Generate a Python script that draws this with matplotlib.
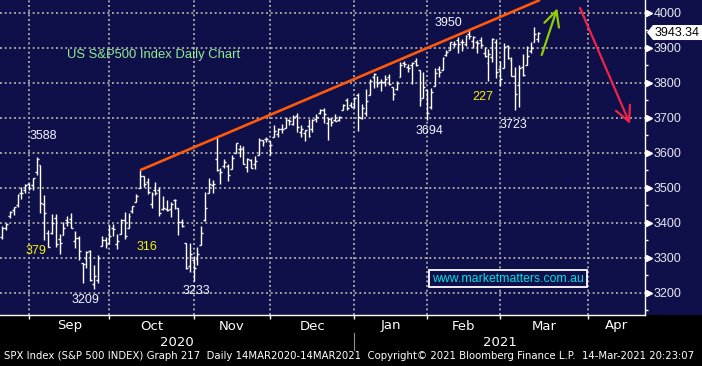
import matplotlib
matplotlib.use("Agg")
import matplotlib.pyplot as plt
from matplotlib.collections import LineCollection
from matplotlib.patches import Polygon, Rectangle
from matplotlib import font_manager
import matplotlib.transforms as mtransforms
import numpy as np
import pandas as pd

# ---------------- data (S&P 500 daily OHLC) ----------------
dates = [
 "2020-08-20","2020-08-21","2020-08-24","2020-08-25","2020-08-26","2020-08-27","2020-08-28","2020-08-31",
 "2020-09-01","2020-09-02","2020-09-03","2020-09-04","2020-09-08","2020-09-09","2020-09-10","2020-09-11",
 "2020-09-14","2020-09-15","2020-09-16","2020-09-17","2020-09-18","2020-09-21","2020-09-22","2020-09-23",
 "2020-09-24","2020-09-25","2020-09-28","2020-09-29","2020-09-30",
 "2020-10-01","2020-10-02","2020-10-05","2020-10-06","2020-10-07","2020-10-08","2020-10-09","2020-10-12",
 "2020-10-13","2020-10-14","2020-10-15","2020-10-16","2020-10-19","2020-10-20","2020-10-21","2020-10-22",
 "2020-10-23","2020-10-26","2020-10-27","2020-10-28","2020-10-29","2020-10-30",
 "2020-11-02","2020-11-03","2020-11-04","2020-11-05","2020-11-06","2020-11-09","2020-11-10","2020-11-11",
 "2020-11-12","2020-11-13","2020-11-16","2020-11-17","2020-11-18","2020-11-19","2020-11-20","2020-11-23",
 "2020-11-24","2020-11-25","2020-11-27","2020-11-30",
 "2020-12-01","2020-12-02","2020-12-03","2020-12-04","2020-12-07","2020-12-08","2020-12-09","2020-12-10",
 "2020-12-11","2020-12-14","2020-12-15","2020-12-16","2020-12-17","2020-12-18","2020-12-21","2020-12-22",
 "2020-12-23","2020-12-24","2020-12-28","2020-12-29","2020-12-30","2020-12-31",
 "2021-01-04","2021-01-05","2021-01-06","2021-01-07","2021-01-08","2021-01-11","2021-01-12","2021-01-13",
 "2021-01-14","2021-01-15","2021-01-19","2021-01-20","2021-01-21","2021-01-22","2021-01-25","2021-01-26",
 "2021-01-27","2021-01-28","2021-01-29",
 "2021-02-01","2021-02-02","2021-02-03","2021-02-04","2021-02-05","2021-02-08","2021-02-09","2021-02-10",
 "2021-02-11","2021-02-12","2021-02-16","2021-02-17","2021-02-18","2021-02-19","2021-02-22","2021-02-23",
 "2021-02-24","2021-02-25","2021-02-26",
 "2021-03-01","2021-03-02","2021-03-03","2021-03-04","2021-03-05","2021-03-08","2021-03-09","2021-03-10",
 "2021-03-11","2021-03-12",
]
opens = [
 3360.5,3386.0,3418.1,3435.9,3450.0,3485.1,3494.7,3509.7,
 3507.4,3543.8,3564.7,3453.6,3371.9,3369.8,3412.6,3352.7,
 3363.6,3407.7,3411.2,3346.9,3357.4,3285.6,3295.8,3320.1,
 3226.1,3236.7,3333.9,3350.9,3341.2,
 3385.9,3338.9,3367.3,3408.7,3384.6,3434.3,3459.7,3500.0,
 3534.0,3515.5,3453.7,3493.5,3493.7,3439.4,3439.9,3438.5,
 3464.9,3441.4,3403.2,3342.5,3277.2,3293.6,
 3296.2,3336.3,3406.5,3485.7,3508.3,3583.0,3543.3,3563.2,
 3562.7,3552.6,3600.2,3610.3,3612.1,3559.4,3579.3,3566.8,
 3594.5,3635.5,3638.6,3634.2,
 3645.9,3653.8,3668.3,3670.9,3694.7,3683.1,3706.0,3659.1,
 3656.1,3675.3,3666.4,3696.3,3713.7,3722.4,3684.3,3698.1,
 3693.4,3694.0,3723.0,3750.0,3736.2,3733.3,
 3764.6,3698.0,3712.2,3764.7,3815.1,3803.1,3801.6,3802.2,
 3815.0,3788.7,3781.9,3816.2,3857.5,3844.2,3851.7,3863.0,
 3836.8,3755.8,3778.1,
 3731.2,3791.8,3840.3,3836.7,3878.3,3892.6,3910.5,3920.8,
 3916.4,3911.7,3939.6,3918.5,3915.9,3921.2,3885.6,3857.1,
 3873.7,3915.8,3839.7,
 3842.5,3903.6,3864.0,3818.5,3793.6,3844.4,3851.9,3892.0,
 3915.5,3924.5,
]
highs = [
 3390.8,3400.0,3432.1,3444.2,3481.1,3501.4,3509.2,3514.8,
 3528.0,3588.1,3564.9,3479.2,3380.0,3424.8,3425.6,3369.0,
 3402.9,3419.5,3428.9,3375.2,3362.3,3285.6,3320.3,3323.4,
 3278.7,3306.9,3360.7,3357.9,3393.6,
 3397.2,3369.1,3409.6,3431.6,3426.3,3447.3,3482.3,3549.9,
 3534.0,3527.9,3489.1,3515.8,3502.4,3476.9,3464.9,3460.5,
 3466.5,3441.4,3409.5,3342.5,3341.1,3304.9,
 3330.1,3389.5,3486.3,3529.0,3521.6,3646.0,3557.2,3581.2,
 3569.0,3593.7,3628.5,3623.1,3619.1,3585.2,3581.2,3589.8,
 3642.3,3635.5,3644.3,3634.2,
 3678.5,3671.0,3682.7,3699.2,3697.4,3708.5,3712.4,3678.5,
 3665.9,3697.6,3695.3,3711.3,3725.1,3726.7,3702.9,3698.3,
 3711.2,3703.8,3740.5,3756.1,3744.6,3760.2,
 3770.0,3737.8,3783.0,3811.6,3826.7,3817.9,3810.8,3821.0,
 3823.6,3788.7,3804.5,3859.8,3861.5,3852.3,3859.2,3870.9,
 3836.8,3830.5,3778.1,
 3784.3,3843.1,3847.5,3872.4,3894.6,3915.8,3918.4,3931.5,
 3926.0,3937.2,3950.4,3933.6,3922.0,3930.4,3902.9,3896.0,
 3928.7,3925.0,3861.1,
 3914.5,3906.4,3874.5,3843.7,3851.7,3881.1,3903.8,3917.4,
 3960.3,3945.0,
]
lows = [
 3354.7,3379.3,3413.1,3421.7,3444.2,3468.4,3484.3,3493.2,
 3494.6,3535.2,3427.4,3349.6,3329.3,3366.8,3329.3,3310.5,
 3363.6,3389.2,3384.4,3328.8,3292.4,3229.1,3271.0,3232.6,
 3209.5,3228.4,3332.9,3327.5,3340.5,
 3361.4,3323.7,3367.3,3354.5,3384.6,3428.2,3458.1,3499.6,
 3500.9,3480.6,3440.9,3480.4,3419.9,3435.7,3433.1,3415.3,
 3440.5,3364.9,3388.7,3268.9,3259.8,3233.9,
 3279.7,3336.3,3405.2,3485.7,3484.3,3547.5,3511.9,3557.0,
 3518.6,3552.6,3600.2,3588.7,3567.3,3543.8,3556.9,3552.8,
 3594.5,3617.8,3629.3,3594.4,
 3645.9,3644.8,3657.2,3670.9,3678.9,3678.8,3660.5,3645.2,
 3633.4,3645.8,3659.6,3688.6,3710.9,3685.8,3636.5,3676.2,
 3689.3,3689.3,3723.0,3723.3,3730.2,3726.9,
 3662.7,3695.1,3705.3,3764.7,3783.6,3789.0,3776.5,3791.5,
 3792.9,3749.6,3780.4,3816.2,3845.1,3830.4,3797.2,3847.8,
 3732.5,3755.8,3694.1,
 3725.6,3791.8,3816.7,3836.7,3874.9,3892.6,3902.6,3884.9,
 3890.4,3905.8,3923.9,3900.4,3885.0,3903.1,3874.7,3805.6,
 3859.6,3814.0,3789.5,
 3842.5,3868.6,3818.9,3723.3,3730.2,3819.3,3851.9,3885.7,
 3915.5,3915.2,
]
closes = [
 3385.5,3397.2,3431.3,3443.6,3478.7,3484.6,3508.0,3500.3,
 3526.7,3580.8,3455.1,3427.0,3331.8,3399.0,3339.2,3341.0,
 3383.5,3401.2,3385.5,3357.0,3319.5,3281.1,3315.6,3236.9,
 3246.6,3298.5,3351.6,3335.5,3363.0,
 3380.8,3348.4,3408.6,3361.0,3419.4,3446.8,3477.1,3534.2,
 3511.9,3488.7,3483.3,3483.8,3426.9,3443.1,3435.6,3453.5,
 3465.4,3401.0,3390.7,3271.0,3310.1,3270.0,
 3310.2,3369.2,3443.4,3510.5,3509.4,3550.5,3545.5,3572.7,
 3537.0,3585.2,3626.9,3609.5,3567.8,3581.9,3557.5,3577.6,
 3635.4,3629.6,3638.4,3621.6,
 3662.5,3669.0,3666.7,3699.1,3692.0,3702.3,3672.8,3668.1,
 3663.5,3647.5,3694.6,3701.2,3722.5,3709.4,3694.9,3687.3,
 3690.0,3703.1,3735.4,3727.0,3732.0,3756.1,
 3700.7,3726.9,3748.1,3803.8,3824.7,3799.6,3801.2,3809.8,
 3795.5,3768.3,3798.9,3851.9,3853.1,3841.5,3855.4,3849.6,
 3750.8,3787.4,3714.2,
 3773.9,3826.3,3830.2,3871.7,3886.8,3915.6,3911.2,3909.9,
 3916.4,3934.8,3932.6,3931.3,3914.0,3906.7,3876.5,3881.4,
 3925.4,3829.3,3811.2,
 3901.8,3870.3,3819.7,3768.5,3841.9,3821.4,3875.4,3898.8,
 3939.3,3943.3,
]
last_price = 3943.34
holidays = ["2020-09-07","2020-11-26","2020-12-25","2021-01-01","2021-01-18","2021-02-15","2021-04-02"]
month_labels = ["Sep","Oct","Nov","Dec","Jan","Feb","Mar","Apr"]
year_labels = ["2020","2021"]
y_ticks = [3200,3300,3400,3500,3600,3700,3800,3900,4000]
trend_dates = ["2020-10-12","2021-02-16"]
trend_vals = [3549.85,3950.4]
annotations = [  # text, colour, (pixel x, pixel y)
 ("3588","w",(43,136)),("379","y",(35.7,250.7)),("3209","w",(85.3,300)),
 ("316","y",(146.7,247.3)),("3233","w",(196.3,291)),("3694","w",(429.7,130.7)),
 ("3950","w",(448.8,23.3)),("227","y",(483.3,97.3)),("3723","w",(513.5,125)),
]
footer = ("SPX Index (S&P 500 INDEX) Graph 217  Daily 14MAR2020-14MAR2021  "
          "Copyright\u00a9 2021 Bloomberg Finance L.P.  14-Mar-2021 20:23:07")

# ---------------- trading-day axis ----------------
all_days = pd.bdate_range("2020-08-20", "2021-04-30")
all_days = all_days[~all_days.isin(pd.to_datetime(holidays))]
pos = {d: i for i, d in enumerate(all_days)}
x = np.array([pos[pd.Timestamp(d)] for d in dates], dtype=float)
O, H, L, C = map(np.array, (opens, highs, lows, closes))

W, Hh = 702, 366
PX = 3.829; X0 = 2.2          # pixel per trading day, pixel of index 0
Y4000 = 12.7; PY = 0.35       # pixel of 4000, pixel per point
AX_R, AX_B = 645, 315

def px2data(px, py):
    return (px - X0) / PX, 4000 - (py - Y4000) / PY

NAVY = "#0f0f4a"
fig = plt.figure(figsize=(W/100, Hh/100), dpi=100, facecolor="black")
bg = Rectangle((AX_R/W, 1-AX_B/Hh), 1-AX_R/W, AX_B/Hh,
               transform=fig.transFigure, facecolor=NAVY, edgecolor="none", zorder=-5)
fig.patches.append(bg)
ax = fig.add_axes([0, 1-AX_B/Hh, AX_R/W, AX_B/Hh])
ax.set_zorder(1)
ax.set_facecolor(NAVY)
xl = px2data(0, 0)[0], px2data(AX_R, 0)[0]
ax.set_xlim(*xl)
ax.set_ylim(px2data(0, AX_B)[1], px2data(0, 0)[1])

# month boundaries (gridline at last trading day of previous month)
months = pd.period_range("2020-09", "2021-04", freq="M")
bounds = []
for m in months:
    first = [i for i, d in enumerate(all_days) if d.to_period("M") == m][0]
    bounds.append(first - 1)
bounds_ext = bounds + [xl[1]]

# grid
for b in bounds:
    ax.axvline(b, color="#a0a0a0", lw=1.4, ls=(0, (1, 1.4)), zorder=1)
for v in y_ticks:
    ax.axhline(v, color="#a0a0a0", lw=1.4, ls=(0, (1, 1.4)), zorder=1)

# OHLC bars
hl = 0.5
segs = [((xi, l), (xi, h)) for xi, l, h in zip(x, L, H)]
segs += [((xi - hl, o), (xi, o)) for xi, o in zip(x, O)]
segs += [((xi, c), (xi + hl, c)) for xi, c in zip(x, C)]
ax.add_collection(LineCollection(segs, colors="white", linewidths=1.0, zorder=3))

# trendline
tx = [pos[pd.Timestamp(d)] for d in trend_dates]
slope = (trend_vals[1] - trend_vals[0]) / (tx[1] - tx[0])
tx_end = px2data(540, 0)[0]
ax.plot([tx[0], tx_end], [trend_vals[0], trend_vals[0] + slope*(tx_end - tx[0])],
        color="#ff5a0a", lw=1.9, solid_capstyle="butt", zorder=4, clip_on=True)

# arrows
def arrow(p_tail, p_tip, col):
    ax.annotate("", xy=px2data(*p_tip), xytext=px2data(*p_tail),
                arrowprops=dict(arrowstyle="->,head_length=0.5,head_width=0.25", color=col,
                                lw=1.6, shrinkA=0, shrinkB=0, mutation_scale=22), zorder=5)
arrow((541.7, 55), (557.3, 8.3), "#8fd000")
arrow((580, 8), (630, 124), "#f02448")

# text annotations
cols = {"w": "#f6f6ff", "y": "#f4f400"}
for t, c, (px, py) in annotations:
    ax.text(*px2data(px, py), t, color=cols[c], fontsize=9, ha="center", va="center",
            family="Liberation Sans", zorder=6)
ax.text(*px2data(66.7, 55), "US S&P500 Index Daily Chart", color="#90ee90", fontsize=9.4,
        ha="left", va="center", family="Liberation Sans", zorder=6)

# website box
bx0, by0 = px2data(429.3, 286.7); bx1, by1 = px2data(586.5, 270)
ax.add_patch(Rectangle((bx0, by0), bx1-bx0, by1-by0, facecolor=NAVY, edgecolor="white", lw=1.3, zorder=6))
ax.text(*px2data(508, 279), "www.marketmatters.com.au", color="#00e0ea", fontsize=8.8,
        ha="center", va="center", family="Liberation Sans", zorder=7)

# spines & ticks
for s in ("top", "left"):
    ax.spines[s].set_visible(False)
for s in ("bottom", "right"):
    ax.spines[s].set_color("white"); ax.spines[s].set_linewidth(1.0)
ax.set_xticks(bounds)
ax.tick_params(axis="x", colors="white", length=3, width=1, labelbottom=False, direction="out")
ax.yaxis.tick_right()
ax.set_yticks(y_ticks)
ax.set_yticks(np.arange(3150, 4050, 100), minor=True)
ax.tick_params(axis="y", which="major", length=0, pad=6.5, labelsize=9, labelcolor="#e8e8f0",
               right=True, labelright=True)
ax.tick_params(axis="y", which="minor", length=2.5, width=1, color="white", direction="out")
for lab in ax.get_yticklabels():
    lab.set_family("Liberation Sans")
ax.plot([1 + 3.5/AX_R]*len(y_ticks), y_ticks, ls="none", marker=">", ms=4.5, color="white",
        transform=ax.get_yaxis_transform(), clip_on=False, zorder=6)

# last price box
yc = 1 - (Y4000 + (4000 - last_price)*PY)/Hh
hh = 7.5/Hh
poly = [(647/W, yc), (653/W, yc+hh), (1, yc+hh), (1, yc-hh), (653/W, yc-hh)]
fig.patches.append(Polygon(poly, closed=True, transform=fig.transFigure, facecolor="white",
                           edgecolor="none", zorder=5))
fig.text(677.5/W, yc, f"{last_price:.2f}", color="black", fontsize=9, ha="center", va="center",
         family="Liberation Sans", zorder=6)

# bottom labels: pick a narrow font
names = {f.name for f in font_manager.fontManager.ttflist}
narrow = "Liberation Sans Narrow" if "Liberation Sans Narrow" in names else "DejaVu Sans"
tr = mtransforms.blended_transform_factory(ax.transData, fig.transFigure)
for i, lab in enumerate(month_labels):
    a, b = bounds_ext[i], min(bounds_ext[i+1], xl[1])
    ax.text((a+b)/2, 1-326/Hh, lab, color="white", fontsize=9.5, family=narrow,
            ha="center", va="center", transform=tr)
jan = bounds[month_labels.index("Jan")]
ax.text((xl[0]+jan)/2, 1-342/Hh, year_labels[0], color="white", fontsize=9.5, family=narrow,
        ha="center", va="center", transform=tr)
ax.text((jan+xl[1])/2, 1-342/Hh, year_labels[1], color="white", fontsize=9.5, family=narrow,
        ha="center", va="center", transform=tr)
ax.plot([jan, jan], [1-333/Hh, 1-350/Hh], color="#909090", lw=0.8, transform=tr, clip_on=False)

ft = fig.text(4.5/W, 1-356/Hh, footer, color="white", fontsize=9, family=narrow,
              ha="left", va="center")
fig.canvas.draw()
wpx = ft.get_window_extent().width
ft.set_fontsize(9 * 695/wpx)

fig.savefig("out.png", dpi=100, facecolor="black")
